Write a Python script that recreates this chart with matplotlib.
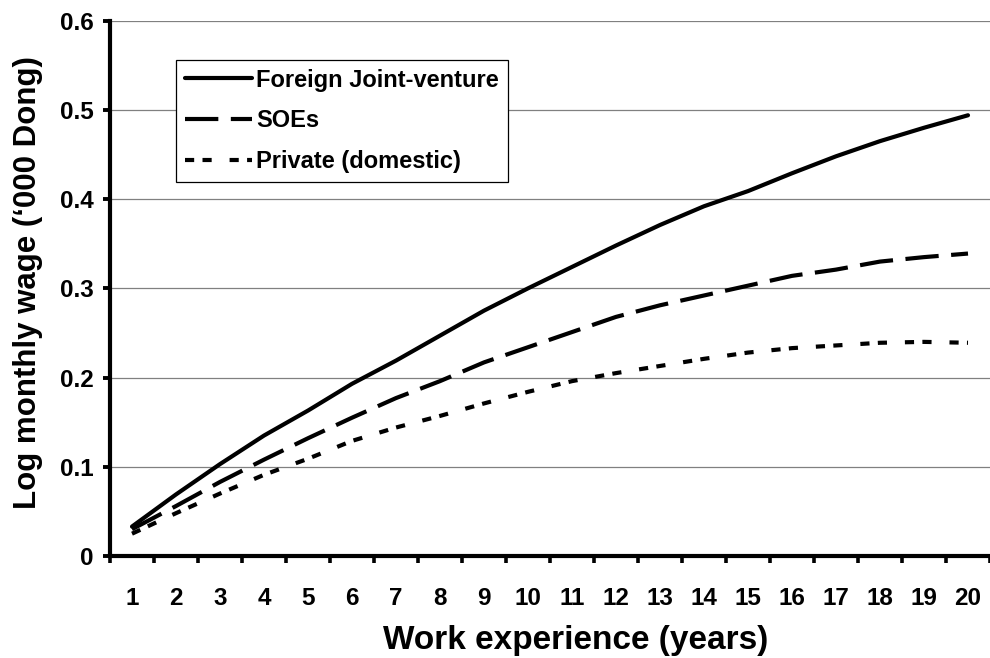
import matplotlib
matplotlib.use("Agg")
import matplotlib.pyplot as plt
import numpy as np

plt.rcParams['font.family'] = ['Liberation Sans', 'DejaVu Sans']
plt.rcParams['font.weight'] = 'bold'

# Years of work experience (categories on the x axis)
years = list(range(1, 21))

# Predicted log monthly wage gain by ownership sector
foreign_jv = [0.033, 0.069, 0.103, 0.135, 0.163, 0.193, 0.219, 0.247, 0.275, 0.300,
              0.324, 0.348, 0.371, 0.392, 0.409, 0.429, 0.448, 0.465, 0.480, 0.494]
soes = [0.030, 0.056, 0.083, 0.108, 0.132, 0.155, 0.177, 0.196, 0.217, 0.234,
        0.251, 0.268, 0.281, 0.292, 0.303, 0.314, 0.321, 0.330, 0.335, 0.339]
private_dom = [0.025, 0.048, 0.070, 0.091, 0.109, 0.129, 0.144, 0.157, 0.171, 0.184,
               0.196, 0.205, 0.213, 0.221, 0.228, 0.233, 0.236, 0.239, 0.240, 0.239]

series_labels = ["Foreign Joint-venture", "SOEs", "Private (domestic)"]
y_ticks = [0.0, 0.1, 0.2, 0.3, 0.4, 0.5, 0.6]
y_tick_labels = ["0", "0.1", "0.2", "0.3", "0.4", "0.5", "0.6"]

W, H = 990, 658
fig = plt.figure(figsize=(W / 100, H / 100), dpi=100)
ax_left, ax_right, ax_top, ax_bottom = 110, 990, 20.7, 556
ax = fig.add_axes([ax_left / W, 1 - ax_bottom / H,
                   (ax_right - ax_left) / W, (ax_bottom - ax_top) / H])

cat_px = 44.3
ax.set_xlim(0.5, 0.5 + (ax_right - ax_left) / cat_px)
ax.set_ylim(0, 0.6)

lw = 3.0
ax.plot(years, foreign_jv, color='black', lw=lw, solid_capstyle='round',
        solid_joinstyle='round', label=series_labels[0], zorder=3)
ax.plot(years, soes, color='black', lw=lw, dashes=(8, 3),
        dash_capstyle='butt', label=series_labels[1], zorder=3)
ax.plot(years, private_dom, color='black', lw=lw, dashes=(2.2, 2.0, 2.2, 4.3),
        dash_capstyle='butt', label=series_labels[2], zorder=3)

# Horizontal gridlines
ax.yaxis.grid(True, color='#808080', lw=0.9)
ax.xaxis.grid(False)
ax.set_axisbelow(True)

# Spines
for s in ['top', 'right']:
    ax.spines[s].set_visible(False)
for s in ['left', 'bottom']:
    ax.spines[s].set_linewidth(3)
    ax.spines[s].set_color('black')

# Y axis ticks
ax.set_yticks(y_ticks)
ax.set_yticklabels(y_tick_labels)
ax.tick_params(axis='y', which='major', direction='out', length=5, width=2.8,
               pad=7, labelsize=17.5, color='black')

# X axis: labels centred on categories, tick marks between them
ax.set_xticks(years)
ax.set_xticklabels([str(y) for y in years])
ax.set_xticks(np.arange(0.5, 21.0, 1.0), minor=True)
ax.tick_params(axis='x', which='major', length=0, pad=22, labelsize=17.5)
ax.tick_params(axis='x', which='minor', direction='out', length=5, width=2.6,
               color='black')

for lab in ax.get_xticklabels() + ax.get_yticklabels():
    lab.set_fontweight('bold')

ax.set_xlabel("Work experience (years)", fontsize=24, fontweight='bold')
ax.xaxis.set_label_coords((576 - ax_left) / (ax_right - ax_left),
                          -(640 - ax_bottom) / (ax_bottom - ax_top))
ax.xaxis.label.set_va('center')
ax.set_ylabel("Log monthly wage (\u2018000 Dong)", fontsize=22.5, fontweight='bold')
ax.yaxis.set_label_coords(-(ax_left - 28) / (ax_right - ax_left),
                          (ax_bottom - 282.5) / (ax_bottom - ax_top))
ax.yaxis.label.set_va('center')

leg = ax.legend(loc='upper left', bbox_to_anchor=(176 / W, 1 - 60 / H),
                bbox_transform=fig.transFigure, borderaxespad=0,
                fancybox=False, shadow=False, framealpha=1,
                edgecolor='black', handlelength=2.84, handletextpad=0.2,
                labelspacing=0.76, borderpad=0.36,
                prop={'size': 17, 'weight': 'bold'})
leg.get_frame().set_linewidth(0.9)
leg.set_zorder(5)

fig.savefig("out.png", dpi=100)
